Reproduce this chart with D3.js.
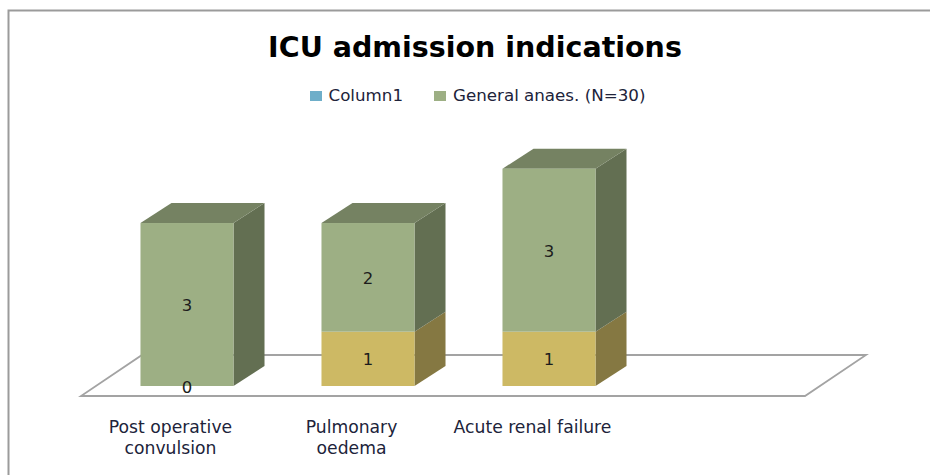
<!DOCTYPE html>
<html>
<head>
<meta charset="utf-8">
<script src="https://cdn.jsdelivr.net/npm/d3@7"></script>
<style>
    html, body { margin: 0; background: #fff; }
    svg { display: block; font-family: "DejaVu Sans", sans-serif; }
</style>
</head>
<body>
<div id="chart"></div>
<script>
const categories = [['Post operative', 'convulsion'], ['Pulmonary', 'oedema'], ['Acute renal failure'], []]
const lowerValues = [0, 1, 1, null]
const upperValues = [3, 2, 3, null]
const legendLabels = ['Column1', 'General anaes. (N=30)']

const width = 930
const height = 475
const depthX = 31
const depthY = 20

const shades = {
    lower: {front: '#cdb964', side: '#857842'},
    upper: {front: '#9daf84', top: '#758262', side: '#636f52'}
}
const legendColors = ['#6eaec9', '#9daf84']

const svg = d3.select('#chart')
    .append('svg')
    .attr('width', width)
    .attr('height', height)

const x = d3.scaleBand()
    .domain(d3.range(categories.length))
    .range([81, 805])
    .paddingInner(0.486)
    .paddingOuter(0.243)

const y = d3.scaleLinear()
    .domain([0, 4])
    .range([396, 178.7])

// outer frame of the pasted chart, only top and left show
svg.append('path')
    .attr('d', `M8.5,${height}V10.5H${width}`)
    .attr('fill', 'none')
    .attr('stroke', '#9b9b9b')
    .attr('stroke-width', 2)

svg.append('text')
    .attr('x', 475)
    .attr('y', 57)
    .attr('text-anchor', 'middle')
    .attr('font-size', 28.5)
    .attr('font-weight', 'bold')
    .attr('fill', '#000')
    .text('ICU admission indications')

// legend
const legendX = [310, 434]
legendLabels.forEach((label, i) => {
    svg.append('rect')
        .attr('x', legendX[i])
        .attr('y', 91)
        .attr('width', 12)
        .attr('height', 10)
        .attr('fill', legendColors[i])
    svg.append('text')
        .attr('x', legendX[i] + (i ? 19 : 18.5))
        .attr('y', 101)
        .attr('font-size', 16.7)
        .attr('fill', '#20233a')
        .text(label)
})

// floor of the 3d plot
svg.append('path')
    .attr('d', `M${x.range()[0]},${y(0)}H${x.range()[1]}l${depthX * 2 - 1},-41H${x.range()[0] + depthX * 2 - 1}Z`)
    .attr('fill', '#fff')
    .attr('stroke', '#a3a3a3')
    .attr('stroke-width', 1.8)

// stacked boxes, the front face sits half a depth into the floor
const drawBox = (band, from, to, colors) => {
    const x0 = x(band) + depthX / 2
    const x1 = x0 + x.bandwidth()
    const y0 = y(from) - depthY / 2
    const y1 = y(to) - depthY / 2
    const g = svg.append('g')
    g.append('path')
        .attr('d', `M${x1},${y0}l${depthX},${-depthY}V${y1 - depthY}l${-depthX},${depthY}Z`)
        .attr('fill', colors.side)
    if (colors.top) g.append('path')
        .attr('d', `M${x0},${y1}l${depthX},${-depthY}H${x1 + depthX}l${-depthX},${depthY}Z`)
        .attr('fill', colors.top)
    g.append('rect')
        .attr('x', x0)
        .attr('y', y1)
        .attr('width', x1 - x0)
        .attr('height', y0 - y1)
        .attr('fill', colors.front)
}

const drawLabel = (band, from, to, value) => {
    svg.append('text')
        .attr('x', x(band) + depthX / 2 + x.bandwidth() / 2)
        .attr('y', (y(from) + y(to)) / 2 - depthY / 2 + 6.5)
        .attr('text-anchor', 'middle')
        .attr('font-size', 16.5)
        .attr('fill', '#1c1c1c')
        .text(value)
}

categories.forEach((lines, i) => {
    if (lowerValues[i] === null) return
    if (lowerValues[i] > 0) drawBox(i, 0, lowerValues[i], shades.lower)
    drawBox(i, lowerValues[i], lowerValues[i] + upperValues[i], shades.upper)
})

categories.forEach((lines, i) => {
    if (lowerValues[i] === null) return
    drawLabel(i, 0, lowerValues[i], lowerValues[i])
    drawLabel(i, lowerValues[i], lowerValues[i] + upperValues[i], upperValues[i])
})

// category labels
categories.forEach((lines, i) => {
    const label = svg.append('text')
        .attr('text-anchor', 'middle')
        .attr('font-size', 17.2)
        .attr('fill', '#20233a')
    lines.forEach((line, j) => {
        label.append('tspan')
            .attr('x', x(i) + x.bandwidth() / 2 - 1)
            .attr('y', 432.5 + j * 21.5)
            .text(line)
    })
})
</script>
</body>
</html>
